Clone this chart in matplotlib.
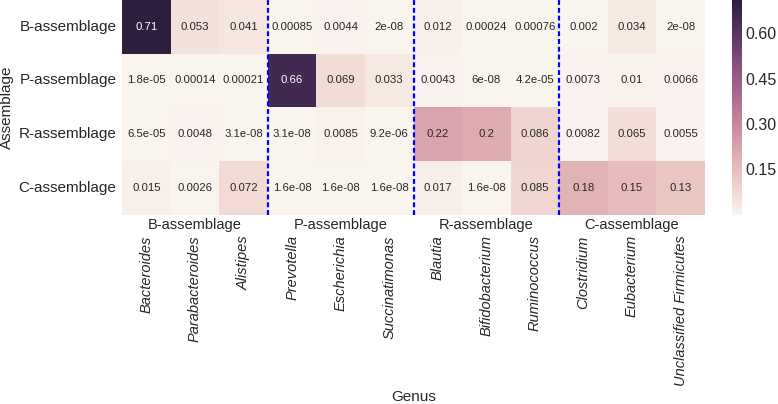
import numpy as np
import matplotlib
matplotlib.use("Agg")
import matplotlib.pyplot as plt
import seaborn as sns

rows = ["B-assemblage", "P-assemblage", "R-assemblage", "C-assemblage"]
genera = ["Bacteroides", "Parabacteroides", "Alistipes",
          "Prevotella", "Escherichia", "Succinatimonas",
          "Blautia", "Bifidobacterium", "Ruminococcus",
          "Clostridium", "Eubacterium", "Unclassified Firmicutes"]
groups = ["B-assemblage", "P-assemblage", "R-assemblage", "C-assemblage"]
group_size = 3

b_row = [0.71, 0.053, 0.041, 0.00085, 0.0044, 2e-08, 0.012, 0.00024, 0.00076, 0.002, 0.034, 2e-08]
p_row = [1.8e-05, 0.00014, 0.00021, 0.66, 0.069, 0.033, 0.0043, 6e-08, 4.2e-05, 0.0073, 0.01, 0.0066]
r_row = [6.5e-05, 0.0048, 3.1e-08, 3.1e-08, 0.0085, 9.2e-06, 0.22, 0.2, 0.086, 0.0082, 0.065, 0.0055]
c_row = [0.015, 0.0026, 0.072, 1.6e-08, 1.6e-08, 1.6e-08, 0.017, 1.6e-08, 0.085, 0.18, 0.15, 0.13]
cbar_ticks = [0.15, 0.30, 0.45, 0.60]

data = np.array([b_row, p_row, r_row, c_row])

sns.set_style("white")
plt.rcParams['font.family'] = ['Liberation Sans', 'DejaVu Sans']

fig = plt.figure(figsize=(7.78, 4.04), dpi=100)
ax = fig.add_axes([0.157, 0.469, 0.749, 0.531])
cax = fig.add_axes([0.941, 0.469, 0.013, 0.531])

cmap = sns.cubehelix_palette(light=0.96, dark=0.15, as_cmap=True)
sns.heatmap(data, ax=ax, cbar_ax=cax, cmap=cmap, annot=True, fmt=".2g",
            annot_kws={"fontsize": 8.2},
            xticklabels=genera, yticklabels=rows,
            cbar_kws={"ticks": cbar_ticks})
cax.set_yticklabels([f"{t:.2f}" for t in cbar_ticks], fontsize=11.5)
cax.tick_params(length=0, pad=2)

ax.set_yticklabels(rows, rotation=0, fontsize=11)
ax.set_xticklabels(genera, rotation=90, fontsize=10.5, style='italic', va='top')
ax.tick_params(axis='x', pad=15, length=0)
ax.tick_params(axis='y', length=0, pad=4)
ax.set_ylabel("Assemblage", fontsize=11)
ax.yaxis.set_label_coords(-0.186, 0.5)
ax.set_xlabel("Genus", fontsize=11)
ax.xaxis.set_label_coords(0.5, -0.82)

for i in range(1, len(groups)):
    ax.axvline(i * group_size, color='blue', linestyle=(0, (2.2, 1.3)), linewidth=1.6)
for i, g in enumerate(groups):
    ax.text(i * group_size + group_size / 2, len(rows) + 0.07, g,
            ha='center', va='top', fontsize=10.5)

fig.savefig("out.png", dpi=100)
